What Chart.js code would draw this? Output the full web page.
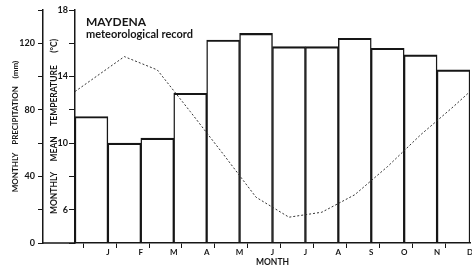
<!DOCTYPE html>
<html>
<head>
<meta charset="utf-8">
<script src="https://cdn.jsdelivr.net/npm/chart.js@4/dist/chart.umd.min.js"></script>
<style>
  html, body { margin: 0; padding: 0; background: #fff; }
  #wrap { width: 472px; height: 267px; }
</style>
</head>
<body>
<div id="wrap"><canvas id="chart" width="472" height="267"></canvas></div>
<script>
// Maydena meteorological record — monthly precipitation bars + mean temperature line

// ============================================
// DATA
// ============================================
const monthLabels = ['J', 'F', 'M', 'A', 'M', 'J', 'J', 'A', 'S', 'O', 'N', 'D'];
const monthCentres = [0.5, 1.5, 2.5, 3.5, 4.5, 5.5, 6.5, 7.5, 8.5, 9.5, 10.5, 11.5];
const precipitation = [76, 60, 63, 90, 122, 126, 118, 118, 123, 117, 113, 104];
const temperature = [13.8, 15.2, 14.4, 11.9, 9.35, 6.75, 5.55, 5.85, 6.9, 8.6, 10.5, 12.2];
const tempWrapValue = 13.1; // Dec/Jan value drawn at both edges of the year
const precipTicks = [0, 40, 80, 120];
const tempTicks = [6, 10, 14, 18];
const titleLines = ['MAYDENA', 'meteorological record'];

(function() {
  'use strict';

  const ink = '#161616';
  const font = 'Lato';

  // bars sit on month centres; the line wraps round from Dec to Jan at the edges
  const barPoints = monthCentres.map((x, i) => ({ x: x, y: precipitation[i] }));
  const linePoints = [{ x: 0, y: tempWrapValue }]
    .concat(monthCentres.map((x, i) => ({ x: x, y: temperature[i] })))
    .concat([{ x: monthLabels.length, y: tempWrapValue }]);

  // ============================================
  // PLUGINS
  // ============================================

  const frameExtras = {
    id: 'frameExtras',
    afterDraw(chart) {
      const { ctx, chartArea, scales } = chart;
      ctx.save();
      // baseline carries on under the precipitation axis
      const y0 = scales.yP.getPixelForValue(0);
      ctx.strokeStyle = ink;
      ctx.lineWidth = 1.5;
      ctx.beginPath();
      ctx.moveTo(scales.yP.right, y0);
      ctx.lineTo(chartArea.left, y0);
      ctx.stroke();

      // station heading inside the plot
      ctx.fillStyle = ink;
      ctx.textAlign = 'left';
      ctx.textBaseline = 'alphabetic';
      ctx.font = 'bold 12px ' + font;
      ctx.fillText(titleLines[0], chartArea.left + 11, 26);
      ctx.font = 'bold 11px ' + font;
      ctx.fillText(titleLines[1], chartArea.left + 11, 38);
      ctx.restore();
    }
  };

  function noEdgePadding(scale) {
    scale.paddingLeft = 0;
    scale.paddingRight = 0;
    scale.paddingTop = 0;
    scale.paddingBottom = 0;
  }

  // ============================================
  // CHART
  // ============================================

  new Chart(document.getElementById('chart'), {
    type: 'bar',
    data: {
      datasets: [
        {
          type: 'line',
          label: 'Temperature',
          data: linePoints,
          yAxisID: 'yT',
          borderColor: '#333',
          borderWidth: 1,
          borderDash: [2, 2],
          pointRadius: 0,
          tension: 0,
          fill: false,
          order: 0
        },
        {
          type: 'bar',
          label: 'Precipitation',
          data: barPoints,
          yAxisID: 'yP',
          backgroundColor: 'rgba(255,255,255,0)',
          borderColor: ink,
          borderWidth: { top: 1.5, left: 0.8, right: 0.8, bottom: 0 },
          borderSkipped: false,
          barThickness: 'flex',
          barPercentage: 1,
          categoryPercentage: 1,
          order: 1
        }
      ]
    },
    options: {
      responsive: false,
      animation: false,
      devicePixelRatio: 1,
      layout: { padding: { top: 10, right: 2, left: 0, bottom: 0 } },
      plugins: {
        legend: { display: false },
        tooltip: { enabled: false }
      },
      scales: {
        x: {
          type: 'linear',
          position: 'bottom',
          min: 0,
          max: monthLabels.length,
          offset: false,
          ticks: {
            stepSize: 0.5,
            autoSkip: false,
            maxRotation: 0,
            padding: 0,
            color: ink,
            font: { family: font, size: 8, weight: 'bold' },
            callback: v => (Number.isInteger(v) && v >= 1) ? monthLabels[v - 1] : ''
          },
          grid: {
            drawOnChartArea: false,
            drawTicks: true,
            tickLength: 5,
            tickColor: ctx => (ctx.tick && !Number.isInteger(ctx.tick.value)) ? ink : 'rgba(0,0,0,0)'
          },
          border: { color: ink, width: 1.5 },
          title: {
            display: true,
            text: 'MONTH',
            color: ink,
            padding: 0,
            font: { family: font, size: 8.5, weight: 'bold' }
          },
          afterFit(scale) {
            scale.height = 24;
            noEdgePadding(scale);
          }
        },
        yT: {
          type: 'linear',
          position: 'left',
          weight: 0,
          min: 4,
          max: 18,
          ticks: {
            stepSize: 2,
            padding: 1,
            color: ink,
            font: { family: font, size: 9, weight: 'bold' },
            callback: v => tempTicks.includes(v) ? String(v) : ''
          },
          grid: { drawOnChartArea: false, tickLength: 6, tickColor: ink },
          border: { color: ink, width: 1.5 },
          title: {
            display: true,
            text: 'MONTHLY     MEAN     TEMPERATURE      (°C)',
            color: ink,
            padding: { top: 6, bottom: 0 },
            font: { family: font, size: 8.5, weight: 'bold' }
          },
          afterFit(scale) {
            scale.width = 32;
            noEdgePadding(scale);
          }
        },
        yP: {
          type: 'linear',
          position: 'left',
          weight: 1,
          min: 0,
          max: 140,
          ticks: {
            stepSize: 20,
            padding: 3,
            color: ink,
            font: { family: font, size: 9, weight: 'bold' },
            callback: v => precipTicks.includes(v) ? String(v) : ''
          },
          grid: { drawOnChartArea: false, tickLength: 5, tickColor: ink },
          border: { color: ink, width: 1.5 },
          title: {
            display: true,
            text: 'MONTHLY    PRECIPITATION    (mm)',
            color: ink,
            padding: { top: 11, bottom: 0 },
            font: { family: font, size: 8, weight: 'bold' }
          },
          afterFit(scale) {
            scale.width = 43;
            noEdgePadding(scale);
          }
        }
      }
    },
    plugins: [frameExtras]
  });
})();
</script>
</body>
</html>
